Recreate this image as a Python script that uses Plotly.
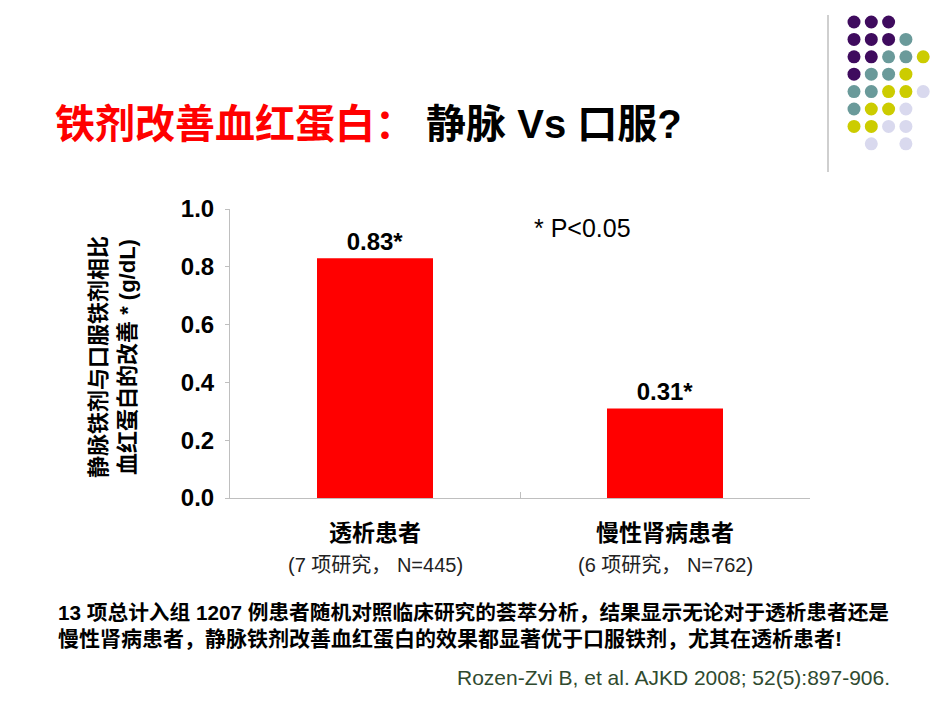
import plotly.graph_objects as go

# ---- data ----
categories = ["透析患者", "慢性肾病患者"]
sub_labels = ["(7 项研究， N=445)", "(6 项研究， N=762)"]
values = [0.83, 0.31]
bar_labels = ["0.83*", "0.31*"]
y_ticks = [0.0, 0.2, 0.4, 0.6, 0.8, 1.0]
y_ticktext = ["<b>0.0</b>", "<b>0.2</b>", "<b>0.4</b>", "<b>0.6</b>", "<b>0.8</b>", "<b>1.0</b>"]

FONT = "Arial, 'Liberation Sans', 'Noto Sans CJK SC', sans-serif"
W, H = 950, 713
L, R, T, B = 230, 140, 209, 215
PW, PH = W - L - R, H - T - B


def px_x(x):
    return (x - L) / PW


def px_y(y):
    return (H - B - y) / PH


fig = go.Figure()
fig.add_trace(go.Bar(
    x=categories, y=values, text=["<b>" + t + "</b>" for t in bar_labels], textposition="outside",
    textfont=dict(size=24, color="black", family=FONT),
    marker=dict(color="#ff0000", line=dict(width=0)),
    cliponaxis=False, width=0.4,
))

annotations = []
for c, s in zip(categories, sub_labels):
    annotations.append(dict(x=c, xref="x", y=px_y(533), yref="paper", text="<b>" + c + "</b>",
                            showarrow=False, font=dict(size=23, color="black", family=FONT),
                            xanchor="center", yanchor="middle"))
    annotations.append(dict(x=c, xref="x", y=px_y(565), yref="paper", text=s,
                            showarrow=False, font=dict(size=20, color="#222222", family=FONT),
                            xanchor="center", yanchor="middle"))

annotations += [
    dict(x=px_x(113), y=px_y(357), xref="paper", yref="paper", textangle=-90,
         text="<b>静脉铁剂与口服铁剂相比<br>血红蛋白的改善 * (g/dL)</b>", showarrow=False,
         font=dict(size=22, color="black", family=FONT), xanchor="center", yanchor="middle"),
    dict(x=px_x(532), y=px_y(228), xref="paper", yref="paper", text="* P&lt;0.05",
         showarrow=False, font=dict(size=25, color="black", family=FONT),
         xanchor="left", yanchor="middle"),
    dict(x=px_x(56), y=px_y(612), xref="paper", yref="paper",
         text="<b>13 项总计入组 1207 例患者随机对照临床研究的荟萃分析，结果显示无论对于透析患者还是</b>",
         showarrow=False, font=dict(size=20.7, color="black", family=FONT),
         xanchor="left", yanchor="middle"),
    dict(x=px_x(56), y=px_y(638), xref="paper", yref="paper",
         text="<b>慢性肾病患者，静脉铁剂改善血红蛋白的效果都显著优于口服铁剂，尤其在透析患者!</b>",
         showarrow=False, font=dict(size=21, color="black", family=FONT),
         xanchor="left", yanchor="middle"),
    dict(x=px_x(892), y=px_y(677), xref="paper", yref="paper",
         text="Rozen-Zvi B, et al. AJKD 2008; 52(5):897-906.",
         showarrow=False, font=dict(size=21, color="#2f4a2f", family=FONT),
         xanchor="right", yanchor="middle"),
]

# decorative dot grid (top right)
P, Tl, Y, Lv = "#3f0b5e", "#6a9a9a", "#cccc00", "#d9d9ee"
dot_grid = [
    [P, P, P, None, None],
    [P, P, P, Tl, None],
    [P, P, Tl, Tl, Y],
    [P, Tl, Tl, Y, None],
    [Tl, Tl, Y, Y, Lv],
    [Tl, Y, Y, Lv, None],
    [Y, Y, Lv, Lv, None],
    [None, Lv, None, Lv, None],
]
shapes = [dict(type="line", xref="paper", yref="paper", x0=px_x(828), x1=px_x(828),
               y0=px_y(15), y1=px_y(172), line=dict(color="#bfbfbf", width=1.5))]
r = 6.5
for ri, row in enumerate(dot_grid):
    for ci, col in enumerate(row):
        if col is None:
            continue
        cx, cy = 854 + ci * 17.3, 22 + ri * 17.4
        shapes.append(dict(type="circle", xref="paper", yref="paper",
                           x0=px_x(cx - r), x1=px_x(cx + r), y0=px_y(cy + r), y1=px_y(cy - r),
                           fillcolor=col, line=dict(width=0)))

fig.update_layout(
    width=W, height=H, margin=dict(l=L, r=R, t=T, b=B),
    paper_bgcolor="white", plot_bgcolor="white", showlegend=False,
    font=dict(family=FONT, color="black"),
    title=dict(text="<b><span style='color:#ff0000'>铁剂改善血红蛋白：</span> 静脉 Vs 口服?</b>",
               x=55 / W, xanchor="left", y=1 - 124 / H, yanchor="middle",
               font=dict(size=40, color="black", family=FONT)),
    xaxis=dict(showticklabels=False, showline=True, linecolor="#bfbfbf", linewidth=1,
               ticks="inside", tickson="boundaries", ticklen=6, tickcolor="#bfbfbf",
               showgrid=False, zeroline=False),
    yaxis=dict(range=[0, 1], tickvals=y_ticks, ticktext=y_ticktext, showline=True,
               linecolor="#bfbfbf", linewidth=1, ticks="outside", ticklen=4,
               tickcolor="#bfbfbf", showgrid=False, zeroline=False, ticklabelstandoff=6,
               tickfont=dict(size=24, color="black", family=FONT)),
    annotations=annotations, shapes=shapes, bargap=0.6,
)

fig.write_html("out.html")
